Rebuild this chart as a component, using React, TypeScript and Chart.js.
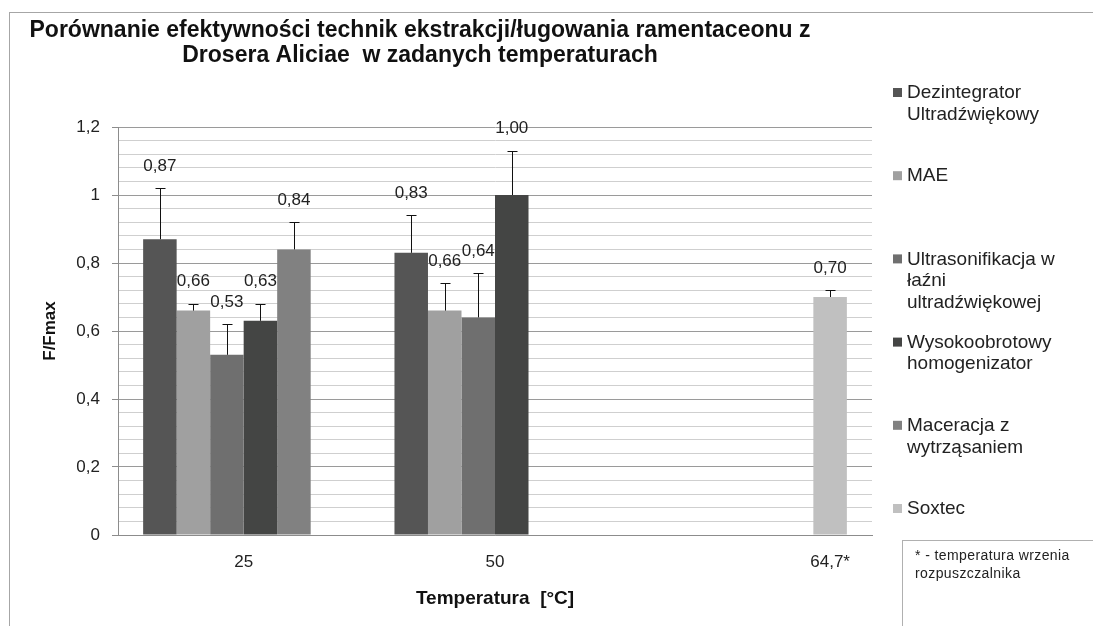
import React, { useEffect, useRef } from 'react';
import { Chart, registerables } from 'chart.js';

Chart.register(...registerables);

// ---- data ----
const categories = ['25', '50', '64,7*'];
const seriesNames = [
  'Dezintegrator Ultradźwiękowy',
  'MAE',
  'Ultrasonifikacja w łaźni ultradźwiękowej',
  'Wysokoobrotowy homogenizator',
  'Maceracja z wytrząsaniem',
  'Soxtec',
];
const dezintegrator = [0.87, 0.83, null];
const mae = [0.66, 0.66, null];
const ultrasonifikacja = [0.53, 0.64, null];
const homogenizator = [0.63, 1.0, null];
const maceracja = [0.84, null, null];
const soxtec = [null, null, 0.7];

const dezintegratorErr = [0.15, 0.11, null];
const maeErr = [0.02, 0.08, null];
const ultrasonifikacjaErr = [0.09, 0.13, null];
const homogenizatorErr = [0.05, 0.13, null];
const maceracjaErr = [0.08, null, null];
const soxtecErr = [null, null, 0.02];

const seriesValues = [dezintegrator, mae, ultrasonifikacja, homogenizator, maceracja, soxtec];
const seriesErrors = [dezintegratorErr, maeErr, ultrasonifikacjaErr, homogenizatorErr, maceracjaErr, soxtecErr];
const seriesColors = ['#555555', '#a0a0a0', '#6f6f6f', '#444544', '#818181', '#c0c0c0'];

const titleLines = [
  'Porównanie efektywności technik ekstrakcji/ługowania ramentaceonu z',
  'Drosera Aliciae  w zadanych temperaturach',
];
const yAxisTitle = 'F/Fmax';
const xAxisTitle = 'Temperatura  [°C]';
const footnoteLines = ['* - temperatura wrzenia', 'rozpuszczalnika'];

const yMin = 0;
const yMax = 1.2;
const yMajorStep = 0.2;
const yMinorStep = 0.04;

const FONT = '"Liberation Sans", Arial, sans-serif';
const fmt = (v: number, d: number) => v.toFixed(d).replace('.', ',');
const isMajor = (v: number) => Math.abs(v / yMajorStep - Math.round(v / yMajorStep)) < 1e-6;

function wrapText(ctx: CanvasRenderingContext2D, text: string, maxWidth: number): string[] {
  const words = text.split(' ');
  const lines: string[] = [];
  let cur = '';
  for (const w of words) {
    const test = cur ? cur + ' ' + w : w;
    if (cur && ctx.measureText(test).width > maxWidth) {
      lines.push(cur);
      cur = w;
    } else {
      cur = test;
    }
  }
  if (cur) lines.push(cur);
  return lines;
}

const overlayPlugin = {
  id: 'overlay',
  beforeDraw(chart: any) {
    const ctx: CanvasRenderingContext2D = chart.ctx;
    ctx.save();
    ctx.fillStyle = '#ffffff';
    ctx.fillRect(0, 0, chart.width, chart.height);
    // outer frame
    ctx.strokeStyle = '#a6a6a6';
    ctx.lineWidth = 1;
    ctx.strokeRect(9.5, 12.5, chart.width + 20, chart.height + 20);
    // title
    ctx.fillStyle = '#111111';
    ctx.font = `bold 23px ${FONT}`;
    ctx.textAlign = 'center';
    ctx.textBaseline = 'middle';
    titleLines.forEach((t, i) => ctx.fillText(t, 420, 31 + i * 25));
    ctx.restore();
  },
  afterDatasetsDraw(chart: any) {
    const ctx: CanvasRenderingContext2D = chart.ctx;
    const yScale = chart.scales.y;
    ctx.save();
    // error bars
    chart.data.datasets.forEach((ds: any, di: number) => {
      const meta = chart.getDatasetMeta(di);
      meta.data.forEach((el: any, i: number) => {
        const v = seriesValues[di][i];
        const e = seriesErrors[di][i];
        if (v == null || e == null) return;
        const x = Math.round(el.x) + 0.5;
        const yTop = Math.round(yScale.getPixelForValue(v + e)) + 0.5;
        ctx.strokeStyle = '#111111';
        ctx.lineWidth = 1;
        ctx.beginPath();
        ctx.moveTo(x, el.y);
        ctx.lineTo(x, yTop);
        ctx.moveTo(x - 5, yTop);
        ctx.lineTo(x + 5, yTop);
        ctx.stroke();
      });
    });
    // data labels
    ctx.font = `17px ${FONT}`;
    ctx.fillStyle = '#222222';
    ctx.textAlign = 'center';
    ctx.textBaseline = 'middle';
    chart.data.datasets.forEach((ds: any, di: number) => {
      const meta = chart.getDatasetMeta(di);
      meta.data.forEach((el: any, i: number) => {
        const v = seriesValues[di][i];
        if (v == null) return;
        const e = seriesErrors[di][i] ?? 0;
        const yTop = yScale.getPixelForValue(v + e);
        ctx.fillText(fmt(v, 2), el.x, yTop - 22);
      });
    });
    ctx.restore();
  },
  afterDraw(chart: any) {
    const ctx: CanvasRenderingContext2D = chart.ctx;
    const xScale = chart.scales.x;
    const area = chart.chartArea;
    ctx.save();
    // category labels
    ctx.font = `17px ${FONT}`;
    ctx.fillStyle = '#222222';
    ctx.textAlign = 'center';
    ctx.textBaseline = 'middle';
    categories.forEach((c, i) => {
      const filled = seriesValues.map((s, di) => (s[i] != null ? di : -1)).filter((d) => d >= 0);
      let x = xScale.getPixelForValue(i);
      if (filled.length === 1) {
        x = chart.getDatasetMeta(filled[0]).data[i].x;
      }
      ctx.fillText(c, x, area.bottom + 27);
    });
    // legend
    const legendX = 893;
    const legendTop = 93;
    const legendStep = (509 - 93) / (seriesNames.length - 1);
    ctx.font = `19px ${FONT}`;
    ctx.textAlign = 'left';
    seriesNames.forEach((name, i) => {
      const y0 = legendTop + i * legendStep;
      ctx.fillStyle = seriesColors[i];
      ctx.fillRect(legendX, y0 - 5, 9, 9);
      ctx.fillStyle = '#222222';
      const lines = wrapText(ctx, name, 160);
      lines.forEach((ln, k) => ctx.fillText(ln, legendX + 14, y0 + k * 21.5));
    });
    // footnote box
    ctx.strokeStyle = '#b0b0b0';
    ctx.lineWidth = 1;
    ctx.strokeRect(902.5, 540.5, chart.width, chart.height);
    ctx.font = `14px ${FONT}`;
    (ctx as any).letterSpacing = '0.4px';
    ctx.fillStyle = '#222222';
    footnoteLines.forEach((t, k) => ctx.fillText(t, 915, 556 + k * 18));
    ctx.restore();
  },
};

export default function App() {
  const canvasRef = useRef<HTMLCanvasElement | null>(null);

  useEffect(() => {
    if (!canvasRef.current) return;
    const chart = new Chart(canvasRef.current, {
      type: 'bar',
      data: {
        labels: categories,
        datasets: seriesNames.map((name, i) => ({
          label: name,
          data: seriesValues[i],
          backgroundColor: seriesColors[i],
          borderWidth: 0,
          categoryPercentage: 0.8,
          barPercentage: 1.0,
        })),
      },
      options: {
        responsive: false,
        animation: false,
        devicePixelRatio: 1,
        layout: { padding: { top: 127, right: 221, left: 0, bottom: 0 } },
        plugins: {
          legend: { display: false },
          title: { display: false },
          tooltip: { enabled: false },
        },
        scales: {
          x: {
            type: 'category',
            afterFit: (axis: any) => {
              axis.height = 91;
            },
            grid: { display: false, drawTicks: false },
            border: { display: true, color: '#8c8c8c', width: 1 },
            ticks: { display: false },
            title: {
              display: true,
              text: xAxisTitle,
              color: '#111111',
              font: { family: FONT, size: 19, weight: 'bold' },
              padding: { top: 0, bottom: 16 },
            },
          },
          y: {
            type: 'linear',
            min: yMin,
            max: yMax,
            afterFit: (axis: any) => {
              axis.width = 118;
            },
            grid: {
              color: (c: any) => (isMajor(c.tick?.value ?? 0) ? '#9a9a9a' : '#cfcfcf'),
              tickColor: (c: any) => (isMajor(c.tick?.value ?? 0) ? '#8c8c8c' : 'rgba(0,0,0,0)'),
              tickLength: 6,
              lineWidth: 1,
            },
            border: { display: true, color: '#8c8c8c', width: 1 },
            ticks: {
              stepSize: yMinorStep,
              autoSkip: false,
              maxTicksLimit: 100,
              padding: 12,
              color: '#222222',
              font: { family: FONT, size: 17 },
              callback: (v: any) => (isMajor(Number(v)) ? fmt(Math.round(Number(v) * 10) / 10, 1).replace(/,0$/, '') : ''),
            },
            title: {
              display: true,
              text: yAxisTitle,
              color: '#111111',
              font: { family: FONT, size: 17, weight: 'bold' },
              padding: { top: 40, bottom: 0 },
            },
          },
        },
      },
      plugins: [overlayPlugin],
    } as any);
    return () => chart.destroy();
  }, []);

  return (
    <div style={{ position: 'fixed', left: 0, top: 0, width: 1093, height: 626, background: '#fff' }}>
      <canvas ref={canvasRef} width={1093} height={626} style={{ width: 1093, height: 626, display: 'block' }} />
    </div>
  );
}
